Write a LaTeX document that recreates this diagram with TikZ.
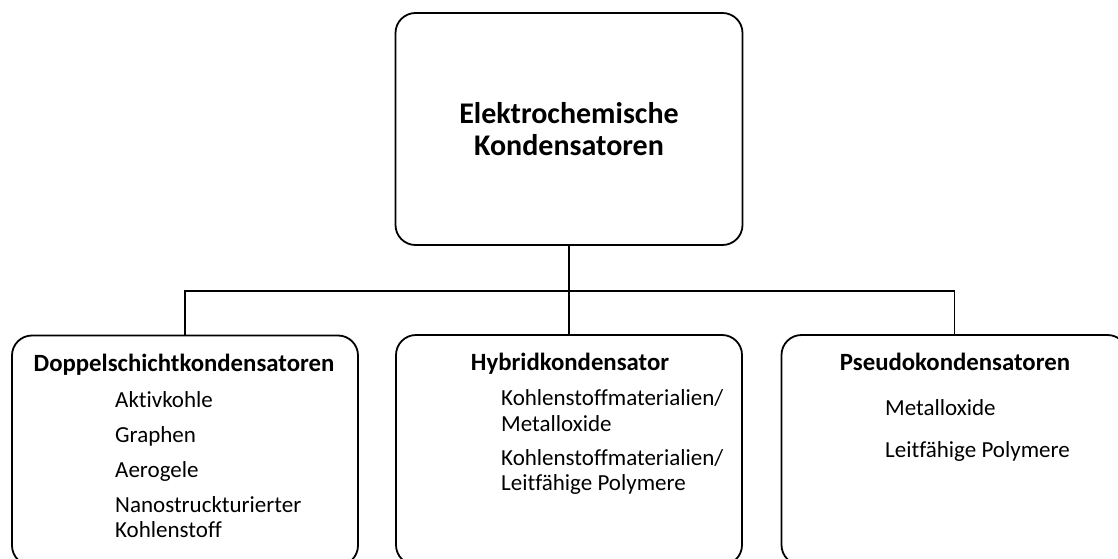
\documentclass[tikz,border=0pt]{standalone}
\usepackage{fontspec}
\setmainfont{Carlito}[Ligatures=NoCommon]

\begin{document}
\begin{tikzpicture}[x=1pt, y=-1pt,
    rootbox/.style={draw=black, line width=1.8pt, rounded corners=20pt, fill=white,
                    align=center, minimum width=347pt, minimum height=232pt,
                    font=\fontsize{30}{32}\selectfont\bfseries},
    typebox/.style={draw=black, line width=1.8pt, rounded corners=20pt, fill=white,
                    minimum width=346pt, minimum height=230pt},
    head/.style={anchor=base, inner sep=0pt, font=\fontsize{24.8}{28}\selectfont\bfseries},
    item/.style={anchor=base west, inner sep=0pt, font=\fontsize{23}{25}\selectfont},
    link/.style={draw=black, line width=1.8pt}
  ]
    \useasboundingbox (0,0) rectangle (1118,559);
    \clip (0,0) rectangle (1118,559);

    \node[rootbox] (root) at (569,129) {Elektrochemische\\Kondensatoren};

    \node[typebox] (dsk) at (185,450.5) {};
    \node[typebox] (hyb) at (569,450) {};
    \node[typebox] (psk) at (954.5,450) {};

    \coordinate (hub) at (569,291);
    \draw[link] (root.south) -- (hub);
    \draw[link] (hub) -| (dsk.north);
    \draw[link] (hub) -| (psk.north);
    \draw[link] (hub) -- (hyb.north);

    % Doppelschicht
    \node[head] (dskhead) at (184,371) {Doppelschichtkondensatoren};
    \foreach \t/\y [count=\i] in {Aktivkohle/407, Graphen/442, Aerogele/477,
                                  Nanostruckturierter/512, Kohlenstoff/537}
      \node[item] (dsk\i) at (115,\y) {\t};

    % Hybrid
    \node[head] (hybhead) at (570,370) {Hybridkondensator};
    \foreach \t/\y [count=\i] in {{Kohlenstoffmaterialien/}/405, Metalloxide/431,
                                  {Kohlenstoffmaterialien/}/465, Leitfähige Polymere/490}
      \node[item] (hyb\i) at (501,\y) {\t};

    % Pseudo
    \node[head] (pskhead) at (955,370) {Pseudokondensatoren};
    \foreach \t/\y [count=\i] in {Metalloxide/415, Leitfähige Polymere/457}
      \node[item] (psk\i) at (885,\y) {\t};
\end{tikzpicture}
\end{document}
